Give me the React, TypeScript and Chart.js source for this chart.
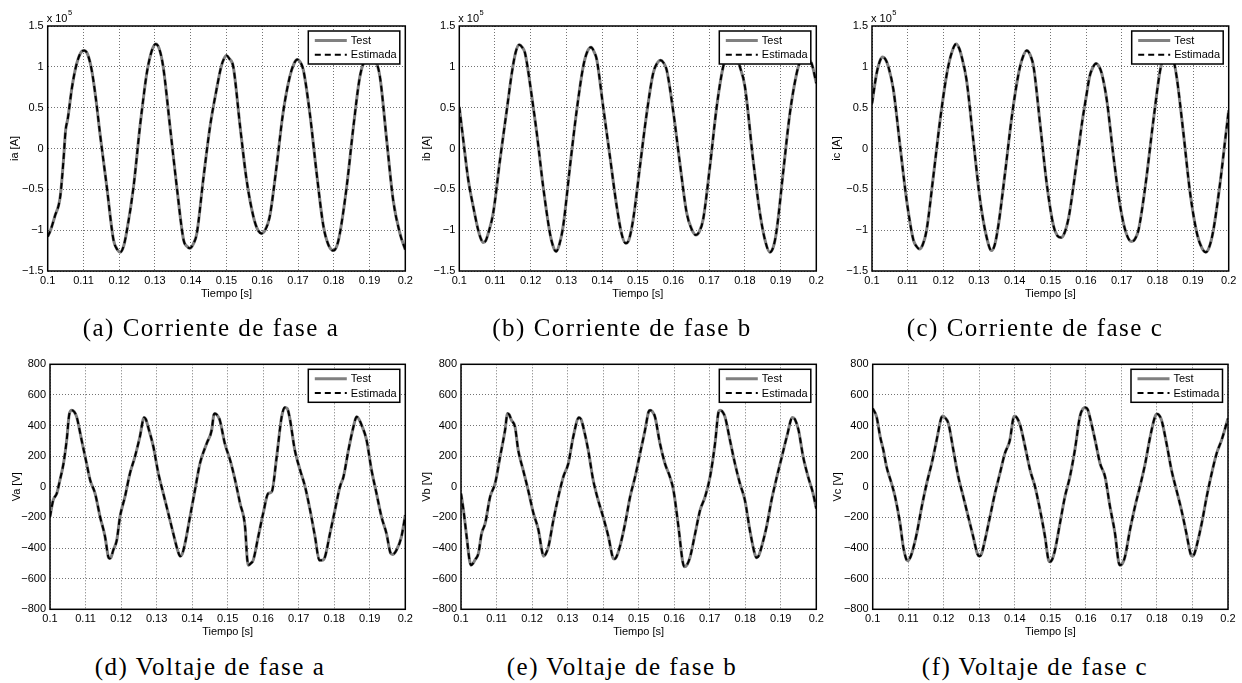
import React, { useEffect, useRef } from 'react';
import { Chart, registerables } from 'chart.js';

Chart.register(...registerables);

// ---------------- DATA (time [s], value) ----------------
// currents in units of 10^5 A (axis shows "x 10^5"), voltages in V
const iaSamples: [number, number][] = [
  [0.1000, -1.08], [0.1008, -1.0], [0.1020, -0.83], [0.1035, -0.59], [0.1044, -0.15], [0.1050, 0.22],
  [0.1056, 0.36], [0.1068, 0.75], [0.1080, 1.02], [0.1092, 1.17], [0.1102, 1.2], [0.1112, 1.15],
  [0.1123, 0.96], [0.1135, 0.6], [0.1146, 0.19], [0.1165, -0.46], [0.1184, -1.12], [0.1195, -1.24],
  [0.1203, -1.27], [0.1212, -1.2], [0.1220, -1.04], [0.1240, -0.47], [0.1258, 0.27], [0.1270, 0.7],
  [0.1277, 0.92], [0.1284, 1.08], [0.1293, 1.22], [0.1302, 1.28], [0.1312, 1.22], [0.1323, 1.0],
  [0.1342, 0.27], [0.1361, -0.47], [0.1380, -1.12], [0.1390, -1.2], [0.1398, -1.22], [0.1407, -1.17],
  [0.1417, -1.04], [0.1435, -0.38], [0.1454, 0.27], [0.1472, 0.72], [0.1485, 1.0], [0.1493, 1.1],
  [0.1500, 1.14], [0.1508, 1.1], [0.1519, 1.0], [0.1538, 0.27], [0.1556, -0.38], [0.1575, -0.83],
  [0.1588, -1.0], [0.1598, -1.04], [0.1608, -1.0], [0.1621, -0.83], [0.1640, -0.22], [0.1658, 0.43],
  [0.1677, 0.88], [0.1690, 1.05], [0.1698, 1.09], [0.1706, 1.06], [0.1715, 0.96], [0.1733, 0.43],
  [0.1752, -0.3], [0.1771, -0.95], [0.1785, -1.18], [0.1799, -1.25], [0.1808, -1.2], [0.1817, -1.04],
  [0.1836, -0.47], [0.1855, 0.27], [0.1873, 0.88], [0.1888, 1.1], [0.1900, 1.16], [0.1912, 1.12],
  [0.1929, 0.88], [0.1948, 0.1], [0.1966, -0.63], [0.1985, -1.04], [0.2000, -1.24],
];

const ibSamples: [number, number][] = [
  [0.1000, 0.51], [0.1011, 0.11], [0.1025, -0.38], [0.1039, -0.71], [0.1053, -1.0], [0.1060, -1.1],
  [0.1067, -1.15], [0.1074, -1.13], [0.1081, -1.04], [0.1095, -0.79], [0.1114, -0.14], [0.1133, 0.47],
  [0.1147, 0.92], [0.1158, 1.18], [0.1168, 1.27], [0.1176, 1.24], [0.1184, 1.17], [0.1203, 0.64],
  [0.1217, 0.19], [0.1235, -0.47], [0.1254, -1.04], [0.1263, -1.2], [0.1271, -1.26], [0.1280, -1.18],
  [0.1291, -0.95], [0.1310, -0.22], [0.1329, 0.47], [0.1347, 1.0], [0.1358, 1.18], [0.1369, 1.24],
  [0.1378, 1.18], [0.1385, 1.09], [0.1403, 0.51], [0.1422, -0.1], [0.1441, -0.71], [0.1455, -1.05],
  [0.1466, -1.16], [0.1475, -1.12], [0.1487, -0.87], [0.1506, -0.22], [0.1525, 0.43], [0.1543, 0.92],
  [0.1555, 1.05], [0.1564, 1.08], [0.1572, 1.05], [0.1581, 0.96], [0.1600, 0.43], [0.1619, -0.22],
  [0.1637, -0.79], [0.1652, -1.0], [0.1663, -1.06], [0.1672, -1.02], [0.1683, -0.87], [0.1702, -0.22],
  [0.1721, 0.51], [0.1739, 1.0], [0.1752, 1.16], [0.1763, 1.2], [0.1774, 1.15], [0.1786, 1.0],
  [0.1800, 0.76], [0.1823, -0.14], [0.1842, -0.79], [0.1858, -1.15], [0.1870, -1.27], [0.1880, -1.2],
  [0.1889, -1.0], [0.1907, -0.3], [0.1926, 0.43], [0.1945, 0.92], [0.1955, 1.07], [0.1965, 1.12],
  [0.1975, 1.1], [0.1987, 1.04], [0.2000, 0.8],
];

const icSamples: [number, number][] = [
  [0.1000, 0.55], [0.1013, 0.92], [0.1022, 1.07], [0.1030, 1.12], [0.1038, 1.09], [0.1046, 1.0],
  [0.1060, 0.72], [0.1079, 0.02], [0.1097, -0.63], [0.1116, -1.12], [0.1125, -1.2], [0.1133, -1.23],
  [0.1142, -1.18], [0.1153, -1.0], [0.1172, -0.34], [0.1191, 0.35], [0.1210, 0.92], [0.1224, 1.18],
  [0.1236, 1.28], [0.1245, 1.22], [0.1251, 1.13], [0.1265, 0.84], [0.1284, 0.1], [0.1303, -0.63],
  [0.1321, -1.08], [0.1335, -1.25], [0.1344, -1.18], [0.1354, -0.95], [0.1373, -0.3], [0.1392, 0.39],
  [0.1411, 0.92], [0.1423, 1.12], [0.1434, 1.2], [0.1444, 1.14], [0.1453, 1.0], [0.1472, 0.27],
  [0.1491, -0.47], [0.1509, -0.95], [0.1520, -1.07], [0.1530, -1.09], [0.1540, -1.03], [0.1552, -0.83],
  [0.1571, -0.26], [0.1590, 0.35], [0.1600, 0.62], [0.1610, 0.88], [0.1619, 0.99], [0.1628, 1.04],
  [0.1637, 1.0], [0.1644, 0.92], [0.1658, 0.6], [0.1677, -0.1], [0.1696, -0.71], [0.1712, -1.03],
  [0.1728, -1.14], [0.1737, -1.11], [0.1747, -1.0], [0.1766, -0.47], [0.1789, 0.35], [0.1808, 0.96],
  [0.1820, 1.15], [0.1831, 1.2], [0.1842, 1.14], [0.1854, 0.88], [0.1873, 0.19], [0.1892, -0.55],
  [0.1911, -1.04], [0.1925, -1.22], [0.1936, -1.27], [0.1946, -1.2], [0.1957, -1.0], [0.1976, -0.42],
  [0.1990, 0.1], [0.2000, 0.47],
];

const vaSamples: [number, number][] = [
  [0.1000, -196], [0.1009, -87], [0.1019, -44], [0.1028, 44], [0.1038, 152], [0.1047, 305],
  [0.1054, 470], [0.1061, 500], [0.1068, 490], [0.1075, 457], [0.1089, 305], [0.1103, 152],
  [0.1113, 44], [0.1127, -44], [0.1141, -196], [0.1155, -327], [0.1164, -457], [0.1167, -468],
  [0.1172, -460], [0.1178, -414], [0.1188, -348], [0.1197, -196], [0.1211, -65], [0.1225, 87],
  [0.1239, 196], [0.1253, 327], [0.1265, 453], [0.1270, 440], [0.1276, 392], [0.1291, 261],
  [0.1305, 87], [0.1319, -44], [0.1333, -174], [0.1347, -305], [0.1360, -420], [0.1366, -453],
  [0.1372, -440], [0.1380, -370], [0.1394, -196], [0.1408, -22], [0.1422, 152], [0.1441, 283],
  [0.1455, 370], [0.1461, 470], [0.1464, 479], [0.1470, 470], [0.1478, 435], [0.1492, 283],
  [0.1507, 174], [0.1521, 44], [0.1535, -109], [0.1549, -261], [0.1555, -470], [0.1558, -512],
  [0.1565, -500], [0.1572, -479], [0.1586, -327], [0.1600, -174], [0.1614, -44], [0.1624, -33],
  [0.1638, 196], [0.1652, 457], [0.1661, 518], [0.1668, 510], [0.1675, 446], [0.1689, 240],
  [0.1704, 109], [0.1718, 0], [0.1732, -152], [0.1746, -327], [0.1758, -479], [0.1766, -480],
  [0.1774, -457], [0.1788, -305], [0.1802, -152], [0.1816, 0], [0.1826, 65], [0.1840, 240],
  [0.1854, 392], [0.1863, 457], [0.1870, 440], [0.1877, 403], [0.1891, 305], [0.1905, 109],
  [0.1919, -44], [0.1933, -196], [0.1947, -305], [0.1958, -430], [0.1964, -442], [0.1975, -414],
  [0.1989, -327], [0.2000, -185],
];

const vbSamples: [number, number][] = [
  [0.1000, -44], [0.1007, -152], [0.1016, -327], [0.1024, -480], [0.1028, -512], [0.1034, -500],
  [0.1039, -479], [0.1049, -435], [0.1058, -305], [0.1068, -239], [0.1082, -65], [0.1096, 22],
  [0.1110, 196], [0.1124, 370], [0.1131, 479], [0.1136, 470], [0.1142, 435], [0.1152, 392],
  [0.1161, 240], [0.1175, 109], [0.1189, -22], [0.1204, -174], [0.1218, -283], [0.1228, -420],
  [0.1232, -453], [0.1238, -440], [0.1246, -392], [0.1260, -218], [0.1274, -65], [0.1288, 65],
  [0.1302, 152], [0.1316, 327], [0.1332, 453], [0.1338, 440], [0.1344, 392], [0.1358, 240],
  [0.1372, 44], [0.1386, -87], [0.1400, -196], [0.1415, -327], [0.1427, -460], [0.1431, -472],
  [0.1437, -460], [0.1447, -392], [0.1462, -239], [0.1476, -65], [0.1490, 65], [0.1504, 218],
  [0.1518, 370], [0.1528, 490], [0.1532, 500], [0.1539, 490], [0.1546, 457], [0.1560, 283],
  [0.1574, 152], [0.1588, 65], [0.1598, -22], [0.1612, -261], [0.1624, -490], [0.1629, -522],
  [0.1636, -510], [0.1645, -457], [0.1659, -305], [0.1673, -152], [0.1687, -65], [0.1701, 65],
  [0.1715, 283], [0.1725, 490], [0.1729, 500], [0.1736, 490], [0.1743, 457], [0.1757, 305],
  [0.1771, 152], [0.1785, 22], [0.1799, -87], [0.1813, -283], [0.1827, -440], [0.1832, -464],
  [0.1838, -450], [0.1846, -392], [0.1860, -261], [0.1874, -87], [0.1889, 65], [0.1903, 196],
  [0.1917, 327], [0.1933, 453], [0.1940, 440], [0.1950, 370], [0.1963, 196], [0.1977, 65],
  [0.1991, -44], [0.2000, -142],
];

const vcSamples: [number, number][] = [
  [0.1000, 512], [0.1011, 457], [0.1021, 327], [0.1030, 240], [0.1039, 131], [0.1053, 22],
  [0.1063, -65], [0.1077, -239], [0.1086, -392], [0.1094, -470], [0.1098, -483], [0.1104, -470],
  [0.1110, -435], [0.1124, -305], [0.1138, -131], [0.1152, 22], [0.1166, 152], [0.1180, 305],
  [0.1193, 450], [0.1197, 462], [0.1204, 450], [0.1213, 414], [0.1227, 240], [0.1241, 65],
  [0.1255, -65], [0.1269, -196], [0.1283, -327], [0.1295, -440], [0.1300, -453], [0.1306, -440],
  [0.1316, -348], [0.1330, -196], [0.1344, -44], [0.1358, 87], [0.1372, 218], [0.1386, 305],
  [0.1396, 450], [0.1400, 462], [0.1406, 450], [0.1415, 403], [0.1429, 261], [0.1443, 109],
  [0.1457, 0], [0.1471, -152], [0.1485, -327], [0.1495, -480], [0.1499, -490], [0.1505, -475],
  [0.1513, -414], [0.1527, -239], [0.1541, -65], [0.1555, 65], [0.1569, 240], [0.1583, 457],
  [0.1592, 510], [0.1599, 518], [0.1605, 505], [0.1611, 457], [0.1626, 305], [0.1640, 152],
  [0.1654, 65], [0.1668, -131], [0.1682, -305], [0.1692, -490], [0.1696, -512], [0.1703, -500],
  [0.1710, -457], [0.1724, -283], [0.1738, -131], [0.1752, 0], [0.1767, 152], [0.1781, 327],
  [0.1795, 460], [0.1801, 475], [0.1807, 465], [0.1813, 435], [0.1827, 283], [0.1841, 109],
  [0.1855, -22], [0.1869, -152], [0.1883, -305], [0.1895, -440], [0.1900, -453], [0.1905, -440],
  [0.1911, -392], [0.1926, -239], [0.1940, -65], [0.1954, 87], [0.1968, 218], [0.1982, 305],
  [0.2000, 446],
];

// tick values
const timeTicks = [0.1, 0.11, 0.12, 0.13, 0.14, 0.15, 0.16, 0.17, 0.18, 0.19, 0.2];
const currentTicks = [-1.5, -1, -0.5, 0, 0.5, 1, 1.5];
const voltageTicks = [-800, -600, -400, -200, 0, 200, 400, 600, 800];

const seriesLabels = ['Test', 'Estimada'];
const xAxisTitle = 'Tiempo [s]';

// ---------------- LAYOUT ----------------
type Panel = {
  key: string;
  samples: [number, number][];
  yLabel: string;
  caption: string;
  kind: 'i' | 'v';
  plot: { l: number; r: number; t: number; b: number };
  yTitleX: number;
  capX: number;
  capY: number;
};

const PANELS: Panel[] = [
  { key: 'a', samples: iaSamples, yLabel: 'ia [A]', caption: '(a) Corriente de fase a', kind: 'i', plot: { l: 47.7, r: 405.3, t: 26, b: 271 }, yTitleX: 14.7, capX: 211, capY: 328 },
  { key: 'b', samples: ibSamples, yLabel: 'ib [A]', caption: '(b) Corriente de fase b', kind: 'i', plot: { l: 459.3, r: 816.3, t: 26, b: 271 }, yTitleX: 427.3, capX: 622, capY: 328 },
  { key: 'c', samples: icSamples, yLabel: 'ic [A]', caption: '(c) Corriente de fase c', kind: 'i', plot: { l: 872, r: 1228.7, t: 26, b: 271 }, yTitleX: 837.3, capX: 1035, capY: 328 },
  { key: 'd', samples: vaSamples, yLabel: 'Va [V]', caption: '(d) Voltaje de fase a', kind: 'v', plot: { l: 50, r: 405.3, t: 364.3, b: 609.3 }, yTitleX: 16.7, capX: 210, capY: 667 },
  { key: 'e', samples: vbSamples, yLabel: 'Vb [V]', caption: '(e) Voltaje de fase b', kind: 'v', plot: { l: 461, r: 816.3, t: 364.3, b: 609.3 }, yTitleX: 426.7, capX: 622, capY: 667 },
  { key: 'f', samples: vcSamples, yLabel: 'Vc [V]', caption: '(f) Voltaje de fase c', kind: 'v', plot: { l: 872.7, r: 1228, t: 364.3, b: 609.3 }, yTitleX: 838.3, capX: 1035, capY: 667 },
];

const FONT = '"Liberation Sans", Arial, Helvetica, sans-serif';
const FS = 11;
const LH = FS * 1.2;

function geometry(p: Panel) {
  const cx = Math.floor(p.yTitleX - 10);
  const cy = Math.floor(p.plot.t - 22);
  const padL = p.yTitleX - LH / 2 - cx;
  const yW = p.plot.l - cx - padL;
  const cw = Math.ceil(p.plot.r - cx + 14);
  const padR = cw - (p.plot.r - cx);
  const padT = p.plot.t - cy;
  const xH = 23 + LH / 2;
  const ch = Math.ceil(p.plot.b - cy + xH + 4);
  const padB = ch - (p.plot.b - cy) - xH;
  const xTickPad = 9.5 - LH / 2;
  return { cx, cy, cw, ch, padL, padR, padT, padB, yW, xH, xTickPad };
}

const minus = (s: string) => s.replace('-', '\u2212');

const matlabPlugin = {
  id: 'matlab',
  afterDatasetsDraw(chart: any, _args: any, opts: any) {
    const { ctx, chartArea: a } = chart;
    ctx.save();
    // axes box
    ctx.setLineDash([]);
    ctx.lineWidth = 1.5;
    ctx.strokeStyle = '#000';
    ctx.strokeRect(a.left, a.top, a.right - a.left, a.bottom - a.top);
    // legend box
    const bw = 91.5, bh = 33;
    const bx = a.right - 5.5 - bw, by = a.top + 5;
    ctx.fillStyle = '#fff';
    ctx.fillRect(bx, by, bw, bh);
    ctx.lineWidth = 1.5;
    ctx.strokeStyle = '#000';
    ctx.strokeRect(bx, by, bw, bh);
    const ds = chart.data.datasets;
    ds.forEach((d: any, i: number) => {
      const y = by + 9.5 + i * 14.2;
      ctx.beginPath();
      ctx.lineWidth = d.borderWidth;
      ctx.strokeStyle = d.borderColor;
      ctx.setLineDash(d.borderDash || []);
      ctx.moveTo(bx + 6.5, y);
      ctx.lineTo(bx + 38.5, y);
      ctx.stroke();
      ctx.setLineDash([]);
      ctx.fillStyle = '#000';
      ctx.font = `${FS}px ${FONT}`;
      ctx.textBaseline = 'middle';
      ctx.textAlign = 'left';
      ctx.fillText(d.label, bx + 42.5, y + 0.5);
    });
    ctx.restore();
  },
  afterDraw(chart: any, _args: any, opts: any) {
    if (!opts || !opts.exponent) return;
    const { ctx, chartArea: a } = chart;
    ctx.save();
    ctx.fillStyle = '#000';
    ctx.textAlign = 'left';
    ctx.textBaseline = 'alphabetic';
    ctx.font = `${FS}px ${FONT}`;
    const base = 'x 10';
    const x0 = a.left - 1;
    ctx.fillText(base, x0, a.top - 4.5);
    const w = ctx.measureText(base).width;
    ctx.font = `7.5px ${FONT}`;
    ctx.fillText('5', x0 + w + 0.5, a.top - 11);
    ctx.restore();
  },
};

function buildConfig(p: Panel, g: ReturnType<typeof geometry>): any {
  const pts = p.samples.map(([x, y]) => ({ x, y }));
  const isI = p.kind === 'i';
  const yTicks = isI ? currentTicks : voltageTicks;
  const grid = {
    drawTicks: false,
    color: 'rgba(0,0,0,0.55)',
    lineWidth: 1,
  };
  const border = { display: false, dash: [1, 2] };
  return {
    type: 'line',
    data: {
      datasets: [
        {
          label: seriesLabels[0],
          data: pts,
          borderColor: '#808080',
          borderWidth: 3,
          pointRadius: 0,
          fill: false,
          cubicInterpolationMode: 'monotone',
          order: 2,
        },
        {
          label: seriesLabels[1],
          data: pts,
          borderColor: '#000000',
          borderWidth: 2,
          borderDash: [6, 4],
          pointRadius: 0,
          fill: false,
          cubicInterpolationMode: 'monotone',
          order: 1,
        },
      ],
    },
    options: {
      responsive: false,
      animation: false,
      devicePixelRatio: 1,
      events: [],
      layout: { padding: { left: g.padL, right: g.padR, top: g.padT, bottom: g.padB } },
      scales: {
        x: {
          type: 'linear',
          min: 0.1,
          max: 0.2,
          afterBuildTicks: (s: any) => {
            s.ticks = timeTicks.map((value) => ({ value }));
          },
          afterFit: (s: any) => {
            s.height = g.xH;
          },
          ticks: {
            autoSkip: false,
            maxRotation: 0,
            minRotation: 0,
            padding: g.xTickPad,
            color: '#000',
            font: { family: FONT, size: FS },
            callback: (v: number) => String(+v.toFixed(2)),
          },
          grid,
          border,
          title: {
            display: true,
            text: xAxisTitle,
            color: '#000',
            font: { family: FONT, size: FS },
            padding: 0,
          },
        },
        y: {
          type: 'linear',
          min: yTicks[0],
          max: yTicks[yTicks.length - 1],
          afterBuildTicks: (s: any) => {
            s.ticks = yTicks.map((value) => ({ value }));
          },
          afterFit: (s: any) => {
            s.width = g.yW;
          },
          ticks: {
            autoSkip: false,
            padding: 4,
            color: '#000',
            font: { family: FONT, size: FS },
            callback: (v: number) => minus(String(+v.toFixed(1))),
          },
          grid,
          border,
          title: {
            display: true,
            text: p.yLabel,
            color: '#000',
            font: { family: FONT, size: FS },
            padding: 0,
          },
        },
      },
      plugins: {
        legend: { display: false },
        tooltip: { enabled: false },
        matlab: { exponent: isI },
      },
    },
    plugins: [matlabPlugin],
  };
}

function PanelChart({ p }: { p: Panel }) {
  const ref = useRef<HTMLCanvasElement | null>(null);
  const g = geometry(p);
  useEffect(() => {
    if (!ref.current) return;
    const chart = new Chart(ref.current, buildConfig(p, g));
    return () => chart.destroy();
  }, []);
  return (
    <canvas
      ref={ref}
      width={g.cw}
      height={g.ch}
      style={{ position: 'absolute', left: g.cx, top: g.cy, width: g.cw, height: g.ch }}
    />
  );
}

export default function App() {
  return (
    <div
      style={{
        position: 'absolute',
        left: 0,
        top: 0,
        width: 1242,
        height: 683,
        background: '#fff',
        overflow: 'hidden',
      }}
    >
      {PANELS.map((p) => (
        <PanelChart key={p.key} p={p} />
      ))}
      {PANELS.map((p) => (
        <div
          key={'cap' + p.key}
          style={{
            position: 'absolute',
            left: p.capX - 200,
            width: 400,
            top: p.capY - 15,
            height: 30,
            lineHeight: '30px',
            textAlign: 'center',
            fontFamily: '"Liberation Serif", "Times New Roman", serif',
            fontSize: 25,
            letterSpacing: '1.5px',
            color: '#000',
            whiteSpace: 'nowrap',
          }}
        >
          {p.caption}
        </div>
      ))}
    </div>
  );
}
